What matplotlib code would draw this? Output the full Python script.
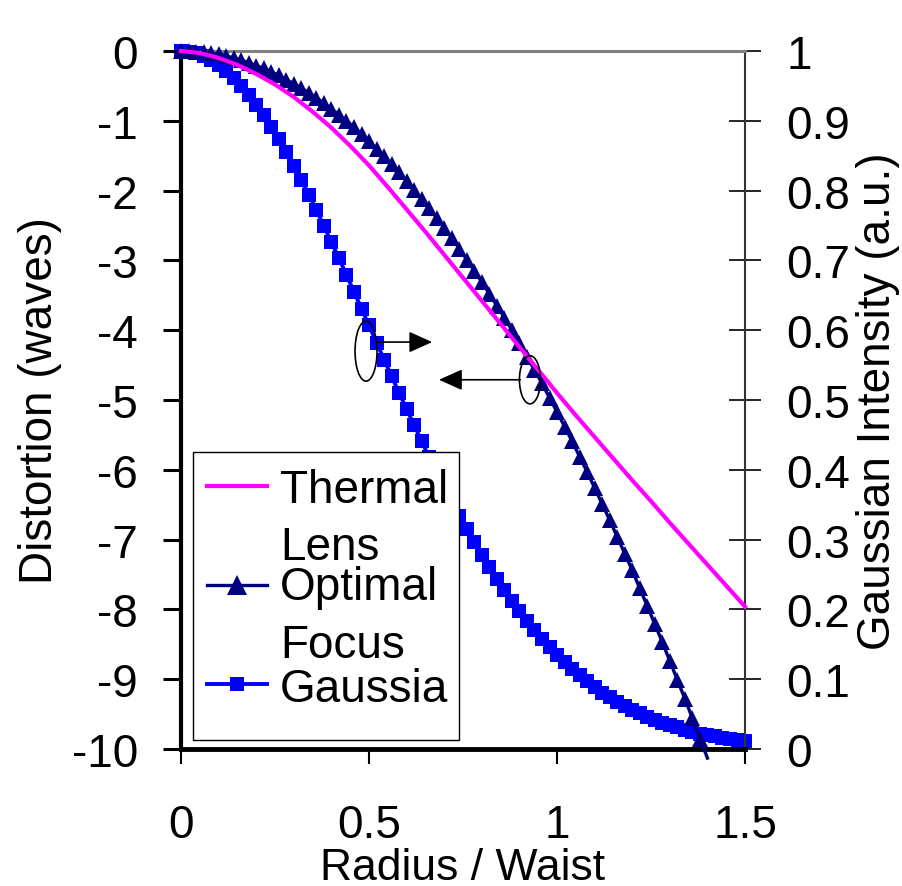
import numpy as np
import matplotlib
matplotlib.use('Agg')
import matplotlib.pyplot as plt
from matplotlib.patches import Ellipse, Rectangle
from matplotlib.lines import Line2D

plt.rcParams['font.family'] = ['Liberation Sans', 'DejaVu Sans']

# radius grid (r / w) used by the two marker series
radius = np.round(np.arange(76) * 0.02, 2)

# Gaussian intensity (right axis)
gaussian = [1.000, 0.999, 0.997, 0.993, 0.987, 0.980, 0.972, 0.962, 0.950, 0.937,
            0.923, 0.908, 0.891, 0.874, 0.855, 0.835, 0.815, 0.794, 0.772, 0.749,
            0.726, 0.703, 0.679, 0.655, 0.631, 0.607, 0.582, 0.558, 0.534, 0.510,
            0.487, 0.464, 0.441, 0.418, 0.397, 0.375, 0.355, 0.334, 0.315, 0.296,
            0.278, 0.261, 0.244, 0.228, 0.212, 0.198, 0.184, 0.171, 0.158, 0.146,
            0.135, 0.125, 0.115, 0.106, 0.097, 0.089, 0.081, 0.074, 0.068, 0.062,
            0.056, 0.051, 0.046, 0.042, 0.038, 0.034, 0.031, 0.028, 0.025, 0.022,
            0.020, 0.018, 0.016, 0.014, 0.013, 0.011]

# optimal focus distortion (left axis), triangles, ends just past -10
optimal = [0.00, -0.00, -0.01, -0.02, -0.03, -0.05, -0.07, -0.10, -0.13, -0.17,
           -0.21, -0.25, -0.30, -0.35, -0.41, -0.47, -0.53, -0.60, -0.67, -0.75,
           -0.83, -0.91, -1.00, -1.09, -1.19, -1.29, -1.40, -1.51, -1.62, -1.74,
           -1.86, -1.99, -2.12, -2.25, -2.39, -2.53, -2.68, -2.83, -2.99, -3.15,
           -3.31, -3.48, -3.65, -3.82, -4.00, -4.19, -4.38, -4.57, -4.76, -4.97,
           -5.17, -5.38, -5.59, -5.81, -6.03, -6.26, -6.49, -6.72, -6.96, -7.20,
           -7.44, -7.70, -7.95, -8.21, -8.47, -8.74, -9.01, -9.28, -9.56, -9.85,
           -10.13]

# thermal lens distortion (left axis)
thermal_r = [0.00, 0.05, 0.10, 0.15, 0.20, 0.25, 0.30, 0.35, 0.40, 0.45,
             0.50, 0.55, 0.60, 0.65, 0.70, 0.75, 0.80, 0.85, 0.90, 0.95,
             1.00, 1.05, 1.10, 1.15, 1.20, 1.25, 1.30, 1.35, 1.40, 1.45, 1.50]
thermal = [0.00, -0.03, -0.10, -0.20, -0.33, -0.48, -0.66, -0.87, -1.10, -1.36,
           -1.64, -1.95, -2.27, -2.59, -2.92, -3.25, -3.58, -3.91, -4.24, -4.57,
           -4.90, -5.22, -5.53, -5.84, -6.15, -6.45, -6.76, -7.06, -7.36, -7.66,
           -7.96]

x_ticks = [0, 0.5, 1, 1.5]
x_labels = ['0', '0.5', '1', '1.5']
left_ticks = list(range(-10, 1))
right_ticks = [i / 10 for i in range(11)]
right_labels = ['0'] + ['0.%d' % i for i in range(1, 10)] + ['1']

FS = 33

fig = plt.figure(figsize=(9.02, 8.87), dpi=100)
ax = fig.add_axes([0.2007, 0.1544, 0.6253, 0.787])
ax2 = ax.twinx()
ax.set_zorder(ax2.get_zorder() + 1)
ax.patch.set_visible(False)

ax.set_xlim(0, 1.5)
ax.set_ylim(-10, 0)
ax2.set_ylim(0, 1)

ax2.plot(radius, gaussian, color='#0000FF', lw=2.8, marker='s', ms=9.5,
         mew=0, clip_on=False, zorder=2)

opt = np.array(optimal)
ax.plot(radius[:len(opt)], opt, color='#000080', lw=2.4, clip_on=False, zorder=3)
keep = opt >= -10
ax.plot(radius[:len(opt)][keep], opt[keep], ls='none', marker='^', ms=12,
        mew=0, color='#000080', clip_on=False, zorder=3)
ax.plot(thermal_r, thermal, color='#FF00FF', lw=3, clip_on=False, zorder=4)

ax.set_xticks(x_ticks)
ax.set_xticklabels(x_labels)
ax.set_yticks(left_ticks)
ax.set_yticklabels([str(t) for t in left_ticks])
ax2.set_yticks(right_ticks)
ax2.set_yticklabels(right_labels)

ax.tick_params(axis='y', direction='out', length=13, width=2.2, pad=18,
               labelsize=FS, right=False)
ax.tick_params(axis='x', direction='out', length=11, width=1.5, pad=27.5,
               labelsize=FS, top=False)
ax2.tick_params(axis='y', direction='inout', length=23, width=1.2, pad=18.5,
                labelsize=FS)

ax.spines['right'].set_visible(False)
ax.spines['left'].set_linewidth(3)
ax.spines['bottom'].set_linewidth(3.5)
ax.spines['top'].set_color('#808080')
ax.spines['top'].set_linewidth(2.2)
for s in ['left', 'top', 'bottom']:
    ax2.spines[s].set_visible(False)
ax2.spines['right'].set_color('#333333')
ax2.spines['right'].set_linewidth(1.5)

ax.set_xlabel('Radius / Waist', fontsize=32, labelpad=0)
ax.set_ylabel('Distortion (waves)', fontsize=FS)
ax.yaxis.set_label_coords(-0.211, 0.5)
ax2.set_ylabel('Gaussian Intensity (a.u.)', fontsize=FS)
ax2.yaxis.set_label_coords(1.197, 0.5)

# ellipses + arrows showing which axis each curve uses
ax.add_patch(Ellipse((0.492, -4.30), 0.0585, 0.86, fill=False, ec='black',
                     lw=1.2, zorder=6))
ax.add_patch(Ellipse((0.928, -4.71), 0.056, 0.69, fill=False, ec='black',
                     lw=1.2, zorder=6))
arrow = dict(arrowstyle='-|>,head_length=0.4,head_width=0.18',
             mutation_scale=36, lw=1.2, color='black', shrinkA=0, shrinkB=0)
ax.annotate('', xy=(0.668, -4.17), xytext=(0.521, -4.17), arrowprops=arrow,
            zorder=6)
ax.annotate('', xy=(0.686, -4.71), xytext=(0.902, -4.71), arrowprops=arrow,
            zorder=6)

# legend drawn by hand (labels wrap like in the original)
tr = ax.transAxes
ax.add_patch(Rectangle((0.0213, 0.0129), 0.4716, 0.4126, transform=tr,
                       fc='white', ec='black', lw=1, zorder=10, clip_on=False))
hx = [0.0461, 0.1525]
ax.add_line(Line2D(hx, [0.3768, 0.3768], transform=tr, color='#FF00FF',
                   lw=3, zorder=11))
ax.add_line(Line2D(hx, [0.235, 0.235], transform=tr, color='#000080',
                   lw=2.4, zorder=11))
ax.add_line(Line2D([0.0993], [0.235], transform=tr, color='#000080',
                   marker='^', ms=14, mew=0, zorder=11))
ax.add_line(Line2D(hx, [0.0931, 0.0931], transform=tr, color='#0000FF',
                   lw=2.8, zorder=11))
ax.add_line(Line2D([0.0993], [0.0931], transform=tr, color='#0000FF',
                   marker='s', ms=10, mew=0, zorder=11))
for txt, yb in [('Thermal', 0.354), ('Lens', 0.272), ('Optimal', 0.215),
                ('Focus', 0.132), ('Gaussia', 0.0688)]:
    ax.text(0.1755, yb, txt, transform=tr, fontsize=FS, va='baseline',
            ha='left', zorder=12)

fig.savefig('out.png', dpi=100)
